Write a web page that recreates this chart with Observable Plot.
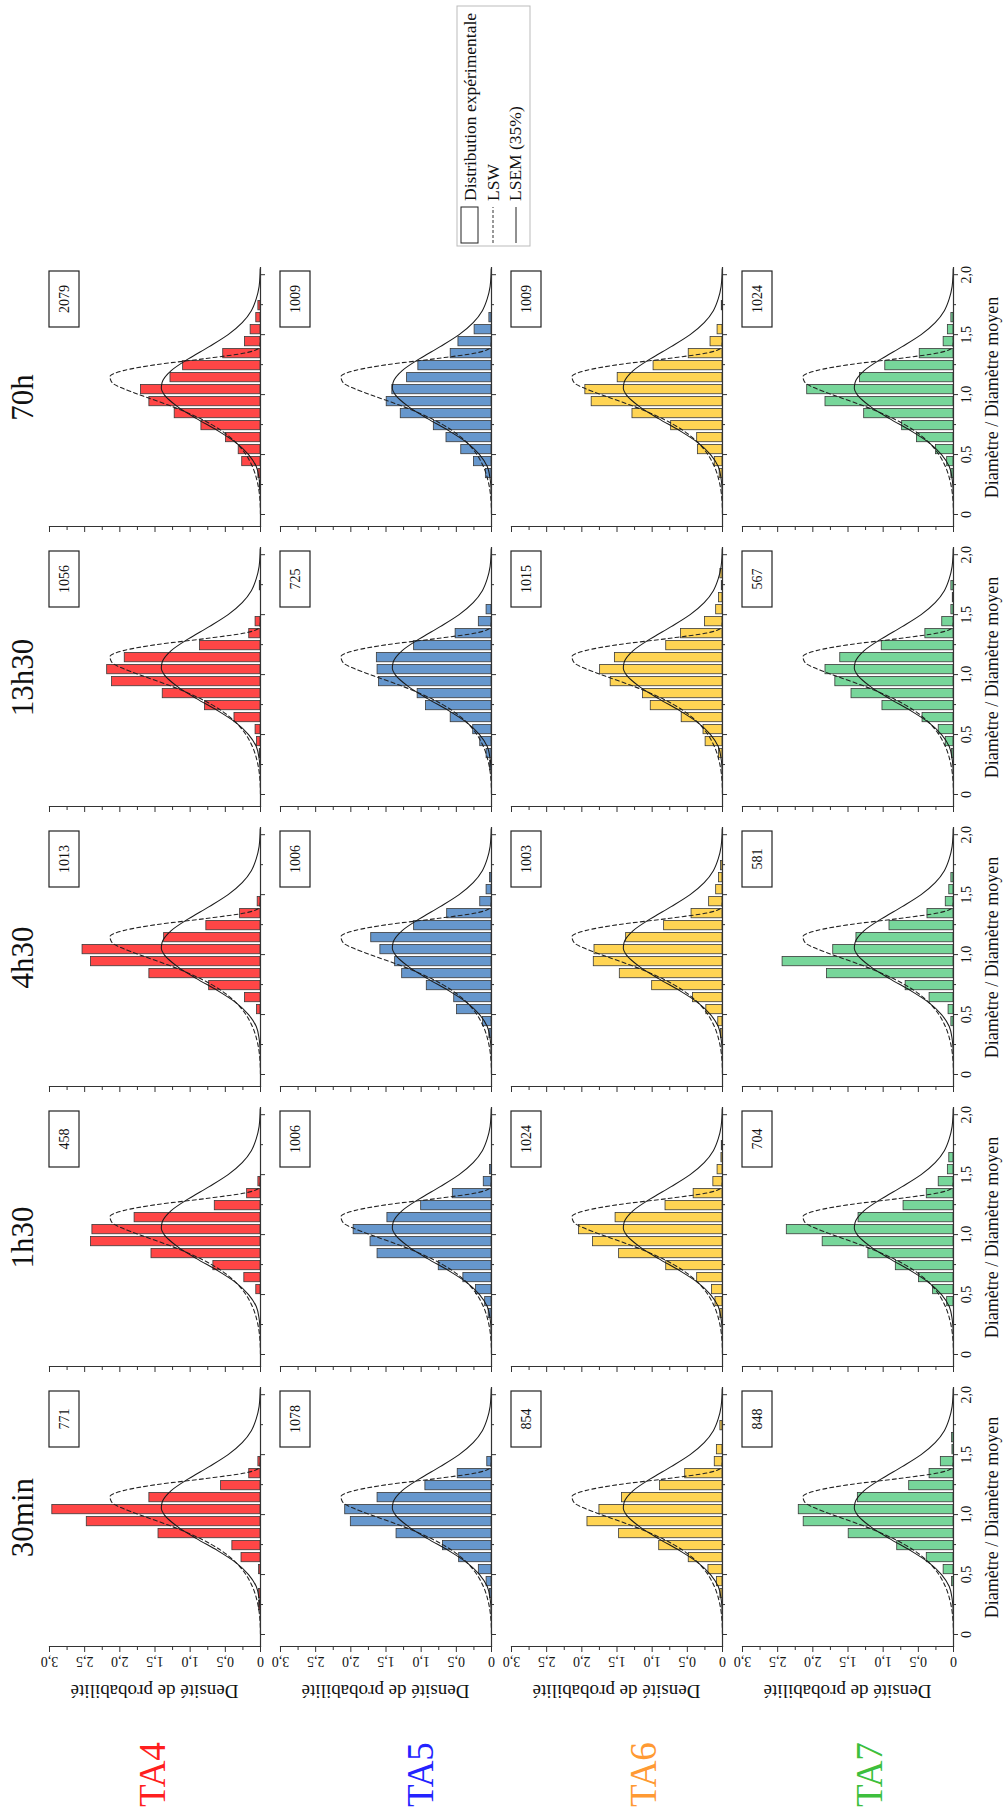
<!DOCTYPE html>
<html><head><meta charset="utf-8">
<script src="https://cdn.jsdelivr.net/npm/d3@7"></script>
<script src="https://cdn.jsdelivr.net/npm/@observablehq/plot@0.6"></script>
<style>
html,body{margin:0;padding:0;background:#fff;}
body{width:1007px;height:1814px;overflow:hidden;position:relative;font-family:"Liberation Serif",serif;}
#fig{position:absolute;left:0;top:0;width:1814px;height:1007px;transform-origin:0 0;transform:rotate(-90deg) translate(-1814px,0);background:#fff;}
.panel{position:absolute;}
</style></head><body><div id="fig"></div>
<script>
// ---------- data ----------
const timeLabels = ["30min", "1h30", "4h30", "13h30", "70h"];
const sampleLabels = ["TA4", "TA5", "TA6", "TA7"];
const sampleColors = ["#ff1f1f", "#2323ff", "#ff9a33", "#3dbf3d"];
const barColors = ["#ff4646", "#6697cd", "#ffd453", "#77d69a"];
const binStarts = [0.2,0.3,0.4,0.5,0.6,0.7,0.8,0.9,1.0,1.1,1.2,1.3,1.4,1.5,1.6,1.7,1.8];
const binWidth = 0.1;

const TA4_30min = [0.02,0.02,0,0.02,0.27,0.40,1.45,2.47,2.96,1.58,0.56,0.16,0.03,0,0,0,0];
const TA4_1h30  = [0,0,0,0.06,0.23,0.67,1.55,2.41,2.39,1.79,0.65,0.19,0.03,0,0,0,0];
const TA4_4h30  = [0,0,0,0.05,0.22,0.73,1.58,2.41,2.53,1.37,0.77,0.29,0.04,0,0,0,0];
const TA4_13h30 = [0,0.01,0.05,0.07,0.37,0.79,1.39,2.11,2.18,1.93,0.86,0.16,0.07,0,0,0.01,0];
const TA4_70h   = [0.01,0.03,0.26,0.31,0.49,0.84,1.22,1.58,1.70,1.28,1.10,0.53,0.22,0.14,0.06,0.03,0];

const TA5_30min = [0,0.02,0.07,0.18,0.46,0.69,1.35,2.00,2.08,1.62,0.94,0.48,0.06,0,0,0,0];
const TA5_1h30  = [0,0.04,0.09,0.22,0.40,0.75,1.62,1.72,1.96,1.48,1.00,0.55,0.11,0.02,0,0,0];
const TA5_4h30  = [0,0.03,0.12,0.49,0.53,0.92,1.27,1.37,1.58,1.71,1.10,0.63,0.16,0.07,0.02,0,0];
const TA5_13h30 = [0.02,0.07,0.16,0.26,0.58,0.93,1.05,1.60,1.62,1.63,1.10,0.51,0.18,0.07,0,0,0];
const TA5_70h   = [0,0.08,0.25,0.43,0.64,0.82,1.29,1.49,1.41,1.20,1.04,0.58,0.47,0.24,0.03,0,0];

const TA6_30min = [0,0.03,0.08,0.20,0.48,0.90,1.47,1.92,1.75,1.43,0.89,0.53,0.11,0.08,0,0.03,0];
const TA6_1h30  = [0,0.03,0.10,0.15,0.36,0.80,1.47,1.84,2.04,1.52,0.81,0.41,0.13,0.07,0.015,0.01,0];
const TA6_4h30  = [0,0.02,0.06,0.23,0.42,1.00,1.46,1.83,1.82,1.37,0.83,0.44,0.19,0.09,0.05,0.02,0];
const TA6_13h30 = [0,0.05,0.24,0.27,0.58,1.02,1.13,1.59,1.74,1.53,0.80,0.59,0.25,0.09,0.05,0.01,0.03];
const TA6_70h   = [0,0.04,0.11,0.35,0.36,0.73,1.28,1.86,1.95,1.49,0.98,0.48,0.17,0.07,0,0.01,0];

const TA7_30min = [0,0,0.02,0.14,0.38,0.80,1.49,2.13,2.20,1.36,0.63,0.34,0.18,0.015,0.02,0,0];
const TA7_1h30  = [0,0,0.09,0.29,0.49,0.82,1.21,1.86,2.37,1.35,0.71,0.38,0.21,0.08,0.06,0,0];
const TA7_4h30  = [0,0,0.03,0.07,0.34,0.68,1.80,2.43,1.71,1.38,0.91,0.37,0.11,0.06,0.03,0,0];
const TA7_13h30 = [0,0.02,0.11,0.21,0.44,1.01,1.45,1.68,1.82,1.61,1.02,0.40,0.16,0.03,0.01,0.03,0];
const TA7_70h   = [0,0.03,0.09,0.25,0.52,0.73,1.27,1.82,2.08,1.33,0.97,0.48,0.14,0.08,0.03,0,0];

const counts_TA4 = [771, 458, 1013, 1056, 2079];
const counts_TA5 = [1078, 1006, 1006, 725, 1009];
const counts_TA6 = [854, 1024, 1003, 1015, 1009];
const counts_TA7 = [848, 704, 581, 567, 1024];

// LSW (dashed) and LSEM 35% (solid) curves
const lsw_u = [0,0.1,0.2,0.3,0.4,0.5,0.6,0.7,0.8,0.9,1.0,1.05,1.1,1.15,1.2,1.25,1.3,1.35,1.4,1.5];
const lsw_p = [0,0.005,0.022,0.057,0.115,0.208,0.349,0.558,0.855,1.253,1.726,1.95,2.11,2.14,1.95,1.48,0.79,0.195,0.006,0];
const lsem_u = [0,0.1,0.2,0.3,0.4,0.5,0.6,0.7,0.8,0.9,1.0,1.05,1.1,1.2,1.3,1.4,1.5,1.6,1.7,1.8,1.9,2.0,2.05];
const lsem_p = [0,0.001,0.005,0.02,0.06,0.17,0.35,0.61,0.91,1.18,1.37,1.41,1.40,1.27,1.02,0.73,0.46,0.26,0.13,0.06,0.02,0.007,0.004];

const diamMajor = [0, 0.5, 1.0, 1.5, 2.0];
const diamMinor = [0.25, 0.75, 1.25, 1.75];
const densMajor = [0, 0.5, 1.0, 1.5, 2.0, 2.5, 3.0];
const densMinor = [0.25, 0.75, 1.25, 1.75, 2.25, 2.75];

const xLabel = "Diamètre / Diamètre moyen";
const yLabel = "Densité de probabilité";
const legendLabels = ["Distribution expérimentale", "LSW", "LSEM (35%)"];

// ---------- assembly ----------
const panels = [
  [TA4_30min, TA4_1h30, TA4_4h30, TA4_13h30, TA4_70h],
  [TA5_30min, TA5_1h30, TA5_4h30, TA5_13h30, TA5_70h],
  [TA6_30min, TA6_1h30, TA6_4h30, TA6_13h30, TA6_70h],
  [TA7_30min, TA7_1h30, TA7_4h30, TA7_13h30, TA7_70h]
];
const counts = [counts_TA4, counts_TA5, counts_TA6, counts_TA7];
const lswPts = lsw_u.map((u, i) => ({u, p: lsw_p[i]}));
const lsemPts = lsem_u.map((u, i) => ({u, p: lsem_p[i]}));
const fmt = d => d === 0 ? "0" : d.toFixed(1).replace(".", ",");

const W = 259, H = 211, colStep = 280, rowStep = 231, XB = 167, YB = 49;
const fig = document.getElementById("fig");

for (let r = 0; r < 4; r++) {
  for (let c = 0; c < 5; c++) {
    const X0 = XB + c * colStep, Y0 = YB + r * rowStep;
    const ml = c === 0 ? 40 : 10, mb = r === 3 ? 30 : 10, mt = 5, mr = 5;
    const bars = binStarts.map((b, i) => ({bin: b, end: +(b + binWidth).toFixed(2), v: panels[r][c][i], zero: 0}))
                          .filter(d => d.v > 0);
    const svg = Plot.plot({
      width: ml + W + mr, height: mt + H + mb,
      marginLeft: ml, marginRight: mr, marginTop: mt, marginBottom: mb,
      x: {domain: [-0.1, 2.06], axis: null},
      y: {domain: [0, 3], axis: null},
      style: {background: "none", overflow: "visible", fontFamily: "'Liberation Serif', serif", color: "#222"},
      marks: [
        Plot.rect(bars, {x1: "bin", x2: "end", y1: "zero", y2: "v", fill: barColors[r], stroke: "#3a3a3a", strokeWidth: 0.8, insetLeft: 1.35, insetRight: 1.35}),
        Plot.line(lswPts, {x: "u", y: "p", curve: "monotone-x", stroke: "#222", strokeWidth: 1.1, strokeDasharray: "4,3"}),
        Plot.line(lsemPts, {x: "u", y: "p", curve: "monotone-x", stroke: "#1a1a1a", strokeWidth: 1.05}),
        Plot.frame({anchor: "left", stroke: "#333", strokeWidth: 1.2}),
        Plot.frame({anchor: "bottom", stroke: "#333", strokeWidth: 1.2}),
        Plot.axisX({ticks: diamMajor, tickSize: 5, tickPadding: 3, stroke: "#333", fill: r === 3 ? "#111" : "none", tickFormat: fmt, fontSize: 14, label: null}),
        Plot.axisX({ticks: diamMinor, tickSize: 3, stroke: "#333", fill: "none", label: null}),
        Plot.axisY({ticks: densMajor, tickSize: 5, tickPadding: 5, tickRotate: -90, stroke: "#333", fill: c === 0 ? "#111" : "none", tickFormat: fmt, fontSize: 14, label: null}),
        Plot.axisY({ticks: densMinor, tickSize: 3, stroke: "#333", fill: "none", label: null})
      ]
    });
    const div = document.createElement("div");
    div.className = "panel";
    div.style.left = (X0 - ml) + "px";
    div.style.top = (Y0 - mt) + "px";
    div.appendChild(svg);
    fig.appendChild(div);
  }
}

// ---------- overlay texts ----------
const ov = d3.create("svg").attr("width", 1814).attr("height", 1007)
  .style("position", "absolute").style("left", "0px").style("top", "0px").style("overflow", "visible")
  .attr("font-family", "'Liberation Serif', serif").attr("fill", "#111");

// column titles
timeLabels.forEach((t, c) => {
  ov.append("text").attr("x", XB + c * colStep + W / 2).attr("y", 33)
    .attr("text-anchor", "middle").attr("font-size", 31).text(t);
});
// row labels
const taBase = [165, 433, 656, 882];
sampleLabels.forEach((t, r) => {
  ov.append("text").attr("x", 7).attr("y", taBase[r]).attr("font-size", 37)
    .attr("fill", sampleColors[r]).text(t);
  ov.append("text").attr("transform", `translate(129,${YB + r * rowStep + H / 2}) rotate(-90)`)
    .attr("text-anchor", "middle").attr("font-size", 19).text(yLabel);
});
// x label under bottom row
timeLabels.forEach((t, c) => {
  ov.append("text").attr("x", XB + c * colStep + W / 2).attr("y", 998)
    .attr("text-anchor", "middle").attr("font-size", 18).text(xLabel);
});
// count boxes
for (let r = 0; r < 4; r++) for (let c = 0; c < 5; c++) {
  const xr = XB + c * colStep + W - 3, yt = YB + r * rowStep;
  ov.append("rect").attr("x", xr - 56).attr("y", yt).attr("width", 56).attr("height", 30)
    .attr("fill", "#fff").attr("stroke", "#222").attr("stroke-width", 1.2);
  ov.append("text").attr("x", xr - 28).attr("y", yt + 20).attr("text-anchor", "middle")
    .attr("font-size", 14).text(counts[r][c]);
}
// legend
const lg = ov.append("g");
lg.append("rect").attr("x", 1568).attr("y", 457).attr("width", 240).attr("height", 73)
  .attr("fill", "#fff").attr("stroke", "#bbb").attr("stroke-width", 1);
lg.append("rect").attr("x", 1571).attr("y", 461).attr("width", 36).attr("height", 17)
  .attr("fill", "#fff").attr("stroke", "#222").attr("stroke-width", 1);
lg.append("line").attr("x1", 1571).attr("x2", 1607).attr("y1", 493).attr("y2", 493)
  .attr("stroke", "#333").attr("stroke-dasharray", "3,2");
lg.append("line").attr("x1", 1571).attr("x2", 1607).attr("y1", 516).attr("y2", 516)
  .attr("stroke", "#222");
[476, 499, 521].forEach((y, i) => {
  lg.append("text").attr("x", 1613).attr("y", y).attr("font-size", 17.5).text(legendLabels[i]);
});
fig.appendChild(ov.node());
</script></body></html>
